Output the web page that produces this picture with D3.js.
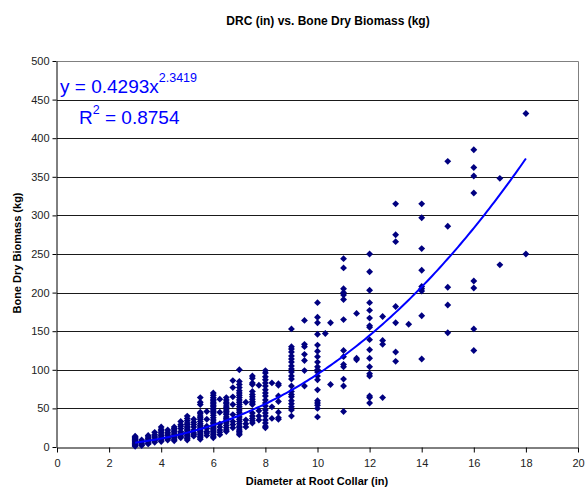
<!DOCTYPE html>
<html>
<head>
<meta charset="utf-8">
<script src="https://cdn.jsdelivr.net/npm/d3@7"></script>
<style>
  body { margin: 0; background: #fff; }
  text { font-family: "Liberation Sans", Arial, sans-serif; }
</style>
</head>
<body>
<svg width="586" height="488"></svg>
<script>
// diameter columns (in) and the biomass readings (kg) at each
const drcCols = [3.0, 3.25, 3.5, 3.75, 4.0, 4.25, 4.5, 4.75, 5.0, 5.25, 5.5, 5.75,
  6.0, 6.25, 6.5, 6.75, 7.0, 7.25, 7.5, 7.75, 8.0, 8.25, 8.5, 9.0, 9.5, 10.0,
  10.3, 10.5, 11.0, 11.5, 12.0, 12.5, 13.0, 13.5, 14.0, 15.0, 16.0, 17.0, 18.0];

const biomassCols = [
  [1, 2, 3, 4, 5, 6, 7, 8, 9, 10, 11, 12, 13, 14],
  [2, 3, 5, 7, 9],
  [4, 5, 7, 9, 11, 13, 15],
  [6, 8, 9, 12, 14, 16, 19],
  [7, 9, 11, 13, 15, 17, 19, 21, 23, 26],
  [9, 11, 12, 15, 17, 19, 22],
  [8, 10, 12, 14, 16, 18, 20, 22, 24, 26],
  [12, 14, 16, 18, 20, 24, 27, 29, 33],
  [9, 11, 13, 15, 17, 19, 21, 23, 25, 27, 29, 31, 34, 37, 40],
  [14, 16, 18, 22, 26, 29, 32, 36],
  [10, 12, 14, 16, 18, 20, 22, 24, 26, 28, 30, 33, 36, 38, 40, 43, 45, 55, 58, 64],
  [15, 18, 20, 24, 27, 36, 46],
  [12, 14, 16, 18, 20, 22, 24, 26, 28, 30, 32, 35, 38, 41, 44, 46, 48, 50, 52, 54, 56, 58, 60, 62, 64, 67, 70],
  [16, 19, 22, 26, 30, 45, 62],
  [20, 22, 25, 28, 31, 33, 35, 37, 39, 42, 44, 46, 48, 51, 53, 56, 58, 61, 64],
  [25, 29, 33, 42, 55, 65, 77, 86],
  [16, 18, 20, 22, 25, 27, 30, 33, 36, 39, 42, 45, 48, 52, 55, 58, 61, 64, 67, 70, 73, 77, 81, 85, 100],
  [26, 30, 35, 58],
  [31, 34, 37, 40, 44, 55, 57, 59, 62, 65, 68, 72, 81, 83, 89, 92],
  [35, 40, 47, 80],
  [25, 27, 31, 35, 40, 44, 48, 53, 57, 61, 66, 70, 74, 79, 83, 87, 91, 96, 99],
  [37, 52, 83],
  [36, 38, 45, 59, 66, 80, 82],
  [40, 48, 52, 56, 60, 65, 68, 72, 79, 88, 92, 97, 101, 105, 110, 114, 118, 123, 127, 130, 153],
  [79, 99, 112, 120, 130, 133, 164],
  [39, 50, 54, 57, 60, 74, 87, 92, 97, 100, 104, 110, 117, 124, 132, 146, 161, 168, 187],
  [147],
  [81, 161],
  [46, 79, 88, 104, 107, 117, 125, 165, 191, 197, 200, 205, 232, 244],
  [113, 115, 173],
  [57, 64, 66, 92, 95, 104, 115, 126, 139, 155, 157, 167, 177, 187, 203, 227, 250],
  [64, 133, 138, 169],
  [111, 123, 161, 182, 266, 275, 315],
  [159],
  [114, 170, 202, 205, 208, 229, 257, 297, 315],
  [148, 184, 207, 286, 370],
  [125, 153, 206, 215, 329, 351, 362, 385],
  [236, 348],
  [250, 432]
];

const xTicks = [0, 2, 4, 6, 8, 10, 12, 14, 16, 18, 20];
const yTicks = [0, 50, 100, 150, 200, 250, 300, 350, 400, 450, 500];
const fitA = 0.4293, fitB = 2.3419;

var points = [];
drcCols.forEach(function(x, i){
    biomassCols[i].forEach(function(y){ points.push({x: x, y: y}); });
});

var svg = d3.select("svg");
var plotLeft = 57, plotRight = 578, plotTop = 61, plotBottom = 447;

var x = d3.scaleLinear().domain([0, 20]).range([plotLeft, plotRight]);
var y = d3.scaleLinear().domain([0, 500]).range([plotBottom, plotTop]);

// gridlines
svg.append("g")
    .selectAll("line")
    .data(yTicks.filter(d => d > 0 && d < 500))
    .enter()
    .append("line")
    .attr("x1", plotLeft).attr("x2", plotRight)
    .attr("y1", d => Math.round(y(d)) + 0.5)
    .attr("y2", d => Math.round(y(d)) + 0.5)
    .style("stroke", "#1a1a1a");

// top and right frame
svg.append("path")
    .attr("d", "M" + plotLeft + "," + (plotTop + 0.5) + "H" + (plotRight + 0.5) + "V" + plotBottom)
    .style("fill", "none")
    .style("stroke", "#808080");

var xAxis = svg.append("g")
    .attr("transform", "translate(0," + (plotBottom + 0.5) + ")")
    .call(d3.axisBottom(x).tickValues(xTicks).tickSize(5).tickPadding(7).tickSizeOuter(0));
var yAxis = svg.append("g")
    .attr("transform", "translate(" + (plotLeft - 0.5) + ",0)")
    .call(d3.axisLeft(y).tickValues(yTicks).tickSize(4).tickPadding(3).tickSizeOuter(0));

[xAxis, yAxis].forEach(function(g){
    g.selectAll("path, line").style("stroke", "#000");
    g.selectAll("text")
        .style("font-size", "11px")
        .style("fill", "#222");
});

// diamond markers
var diamond = d3.symbol().type(d3.symbolDiamond2).size(30);
svg.append("g")
    .selectAll("path")
    .data(points)
    .enter()
    .append("path")
    .attr("transform", d => "translate(" + x(d.x) + "," + y(d.y) + ")")
    .attr("d", diamond)
    .style("fill", "#000080");

// power trendline
var fit = d3.range(3, 18.001, 0.1).map(v => ({x: v, y: fitA * Math.pow(v, fitB)}));
svg.append("path")
    .datum(fit)
    .attr("d", d3.line().x(d => x(d.x)).y(d => y(d.y)))
    .style("fill", "none")
    .style("stroke", "#0000ff")
    .style("stroke-width", 2);

// equation labels
var eq = svg.append("text")
    .attr("x", 60).attr("y", 93)
    .style("font-size", "19px")
    .style("fill", "#0000ff");
eq.append("tspan").text("y = " + fitA + "x");
eq.append("tspan").attr("dy", -11).style("font-size", "12.5px").text(fitB);

var r2 = svg.append("text")
    .attr("x", 79).attr("y", 124)
    .style("font-size", "19px")
    .style("fill", "#0000ff");
r2.append("tspan").text("R");
r2.append("tspan").attr("dy", -10).style("font-size", "12.5px").text("2");
r2.append("tspan").attr("dy", 10).text(" = 0.8754");

// titles
svg.append("text")
    .attr("x", 328).attr("y", 25)
    .attr("text-anchor", "middle")
    .style("font-size", "12px")
    .style("font-weight", "bold")
    .text("DRC (in) vs. Bone Dry Biomass (kg)");

svg.append("text")
    .attr("x", 317).attr("y", 485)
    .attr("text-anchor", "middle")
    .style("font-size", "11px")
    .style("font-weight", "bold")
    .text("Diameter at Root Collar (in)");

svg.append("text")
    .attr("transform", "translate(21,253) rotate(-90)")
    .attr("text-anchor", "middle")
    .style("font-size", "11px")
    .style("font-weight", "bold")
    .text("Bone Dry Biomass (kg)");
</script>
</body>
</html>
